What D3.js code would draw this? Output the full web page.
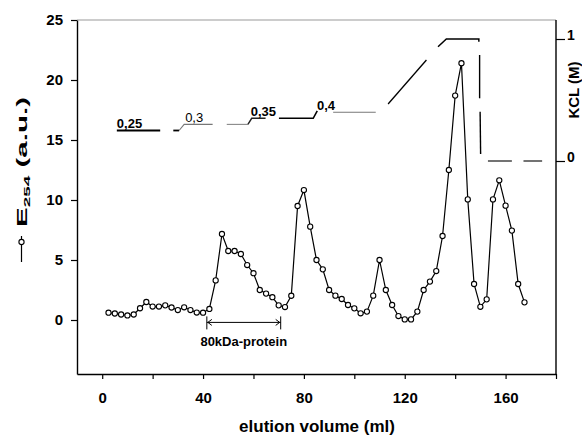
<!DOCTYPE html>
<html>
<head>
<meta charset="utf-8">
<script src="https://cdn.jsdelivr.net/npm/d3@7"></script>
<style>
  html, body { margin: 0; padding: 0; background: #fff; }
  svg { display: block; font-family: "Liberation Sans", Arial, sans-serif; }
</style>
</head>
<body>
<svg id="chart" width="582" height="436"></svg>
<script>
// elution volume (ml) of each fraction and its absorbance
const volume = [
  2.5, 5, 7.5, 10, 12.5, 15, 17.5, 20, 22.5, 25, 27.5, 30, 32.5, 35, 37.5, 40,
  42.5, 45, 47.5, 50, 52.5, 55, 57.5, 60, 62.5, 65, 67.5, 70, 72.5, 75, 77.5, 80,
  82.5, 85, 87.5, 90, 92.5, 95, 97.5, 100, 102.5, 105, 107.5, 110, 112.5, 115,
  117.5, 120, 122.5, 125, 127.5, 130, 132.5, 135, 137.5, 140, 142.5, 145, 147.5,
  150, 152.5, 155, 157.5, 160, 162.5, 165, 167.5
];
const e254 = [
  0.61, 0.54, 0.46, 0.38, 0.46, 0.98, 1.5, 1.12, 1.12, 1.22, 1.04, 0.83, 1.06, 0.83, 0.62, 0.61,
  0.92, 3.3, 7.17, 5.75, 5.75, 5.5, 4.58, 3.9, 2.5, 2.2, 1.9, 1.22, 1.08, 2.02, 9.5, 10.83,
  7.78, 5.0, 4.22, 2.5, 2.03, 1.75, 1.25, 0.97, 0.56, 0.7, 2.03, 5.0, 2.5, 1.25,
  0.33, 0.05, 0.05, 0.7, 2.5, 3.2, 4.08, 7.0, 12.5, 18.7, 21.4, 10.05, 3.0,
  1.1, 1.72, 10.05, 11.64, 9.53, 7.45, 3.0, 1.47
];

// KCl step gradient, pieces of [volume, molarity]
const kclSegments = [
  [[5.8, 0.25], [23, 0.25]],
  [[28.2, 0.25], [30.5, 0.25]],
  [[30.5, 0.25], [32.5, 0.3], [43.8, 0.3]],
  [[49.4, 0.3], [57.8, 0.3]],
  [[57.8, 0.3], [59.3, 0.35], [64.8, 0.35]],
  [[70.1, 0.35], [83.7, 0.35], [85.3, 0.41]],
  [[91.6, 0.4], [108.5, 0.4]],
  [[113.4, 0.467], [128.6, 0.828]],
  [[133.2, 0.937], [136.5, 1.0], [149.4, 1.0], [149.4, 0.978]],
  [[149.7, 0.869], [149.7, 0.514]],
  [[149.9, 0.404], [150.1, 0.057]],
  [[153, 0], [162.5, 0]],
  [[167.1, 0], [174.5, 0]]
];
const kclLabels = ["0,25", "0,3", "0,35", "0,4"];
const kclLabelVolume = [5.8, 32.9, 58.9, 85.2];
const kclLabelLevel = [0.25, 0.3, 0.35, 0.4];

const xTicks = [0, 20, 40, 60, 80, 100, 120, 140, 160, 180];
const xTickLabels = [0, 40, 80, 120, 160];
const yTicks = [0, 5, 10, 15, 20, 25];
const kclTicks = [0, 1];

const proteinRange = [41.5, 70.8];
const proteinLabel = "80kDa-protein";

// ---- drawing ----
const plot = { left: 77, right: 556, top: 20, bottom: 374 };

const x = d3.scaleLinear().domain([-10, 180]).range([plot.left, plot.right]);
const y = d3.scaleLinear().domain([-4.5, 25]).range([plot.bottom, plot.top]);
const k = d3.scaleLinear().domain([0, 1]).range([161, 39]);

const svg = d3.select("#chart");

// light top frame line
svg.append("line")
  .attr("x1", plot.left).attr("x2", plot.right)
  .attr("y1", plot.top).attr("y2", plot.top)
  .attr("stroke", "#9a9a9a").attr("stroke-width", 1.2);

// bottom axis
const gx = svg.append("g")
  .attr("transform", `translate(0,${plot.bottom})`)
  .call(d3.axisBottom(x).tickValues(xTicks).tickSize(5).tickPadding(13).tickSizeOuter(0)
    .tickFormat((d) => (xTickLabels.includes(d) ? d : "")));

// left axis
const gy = svg.append("g")
  .attr("transform", `translate(${plot.left},0)`)
  .call(d3.axisLeft(y).tickValues(yTicks).tickSize(6).tickPadding(8).tickSizeOuter(0));

// right axis (KCl)
const gk = svg.append("g")
  .attr("transform", `translate(${plot.right},0)`)
  .call(d3.axisRight(k).tickValues(kclTicks).tickFormat(d3.format("d"))
    .tickSize(9).tickPadding(2).tickSizeOuter(0));
gk.select(".domain").attr("d", `M0,${plot.top}V${plot.bottom}`);
gk.selectAll("text").attr("dy", "0");

[gx, gy, gk].forEach((g) => {
  g.select(".domain").attr("stroke", "#000").attr("stroke-width", 1.4);
  g.selectAll(".tick line").attr("stroke", "#000").attr("stroke-width", 1.2);
  g.selectAll("text")
    .attr("fill", "#000")
    .style("font-family", "'Liberation Sans', Arial, sans-serif")
    .style("font-weight", "bold")
    .style("font-size", "15px");
});
gk.selectAll("text").style("font-size", "14px");

// axis titles
svg.append("text")
  .attr("x", 317).attr("y", 432)
  .attr("text-anchor", "middle")
  .style("font-size", "17px").style("font-weight", "bold")
  .text("elution volume (ml)");

const yTitle = svg.append("text")
  .attr("transform", "translate(27,162) rotate(-90)")
  .attr("text-anchor", "middle")
  .attr("textLength", 130)
  .attr("lengthAdjust", "spacingAndGlyphs")
  .style("font-size", "14px").style("font-weight", "bold");
yTitle.append("tspan").text("E");
yTitle.append("tspan").attr("dy", 3).style("font-size", "9px").text("254");
yTitle.append("tspan").attr("dy", -3).text(" (a.u.)");

// legend symbol next to the left title
svg.append("line")
  .attr("x1", 21.5).attr("x2", 21.5).attr("y1", 236).attr("y2", 262)
  .attr("stroke", "#000").attr("stroke-width", 1.2);
svg.append("circle")
  .attr("cx", 21.5).attr("cy", 242).attr("r", 2.6)
  .attr("fill", "#fff").attr("stroke", "#000").attr("stroke-width", 1.1);

svg.append("text")
  .attr("transform", "translate(579,90) rotate(-90)")
  .attr("text-anchor", "middle")
  .style("font-size", "15px").style("font-weight", "bold")
  .text("KCL (M)");

// KCl gradient
const segStroke = ["#000", "#000", "#777", "#888", "#222", "#000", "#777", "#000", "#000", "#000", "#000", "#000", "#000"];
const segWidth = [1.8, 1.8, 1.1, 1.1, 1.4, 1.6, 1.1, 1.3, 1.5, 1.4, 1.4, 1.1, 1.1];
const kLine = d3.line().x((d) => x(d[0])).y((d) => k(d[1]));
svg.append("g").selectAll("path")
  .data(kclSegments)
  .join("path")
  .attr("d", kLine)
  .attr("fill", "none")
  .attr("stroke", (d, i) => segStroke[i])
  .attr("stroke-width", (d, i) => segWidth[i]);

svg.append("g").selectAll("text")
  .data(kclLabels)
  .join("text")
  .attr("x", (d, i) => x(kclLabelVolume[i]))
  .attr("y", (d, i) => k(kclLabelLevel[i]) - 2.5)
  .style("font-size", "13px")
  .style("font-weight", (d) => (d === "0,3" ? "normal" : "bold"))
  .text((d) => d);

// 80 kDa protein range
const ay = y(-0.2);
const ax0 = x(proteinRange[0]);
const ax1 = x(proteinRange[1]);
const ann = svg.append("g").attr("stroke", "#000").attr("stroke-width", 1).attr("fill", "none");
ann.append("path").attr("d", `M${ax0},${ay}H${ax1}`);
ann.append("path").attr("d", `M${ax0},${ay - 6}V${ay + 7}M${ax1},${ay - 6}V${ay + 7}`);
ann.append("path").attr("d", `M${ax0 + 5},${ay - 3}L${ax0 + 1},${ay}L${ax0 + 5},${ay + 3}`);
ann.append("path").attr("d", `M${ax1 - 5},${ay - 3}L${ax1 - 1},${ay}L${ax1 - 5},${ay + 3}`);
svg.append("text")
  .attr("x", (ax0 + ax1) / 2).attr("y", ay + 24)
  .attr("text-anchor", "middle")
  .style("font-size", "13px").style("font-weight", "bold")
  .text(proteinLabel);

// absorbance trace
const pts = volume.map((v, i) => [v, e254[i]]);
svg.append("path")
  .datum(pts)
  .attr("d", d3.line().x((d) => x(d[0])).y((d) => y(d[1])))
  .attr("fill", "none")
  .attr("stroke", "#000")
  .attr("stroke-width", 1.2);
svg.append("g").selectAll("circle")
  .data(pts)
  .join("circle")
  .attr("cx", (d) => x(d[0]))
  .attr("cy", (d) => y(d[1]))
  .attr("r", 2.6)
  .attr("fill", "#fff")
  .attr("stroke", "#000")
  .attr("stroke-width", 1.1);
</script>
</body>
</html>
